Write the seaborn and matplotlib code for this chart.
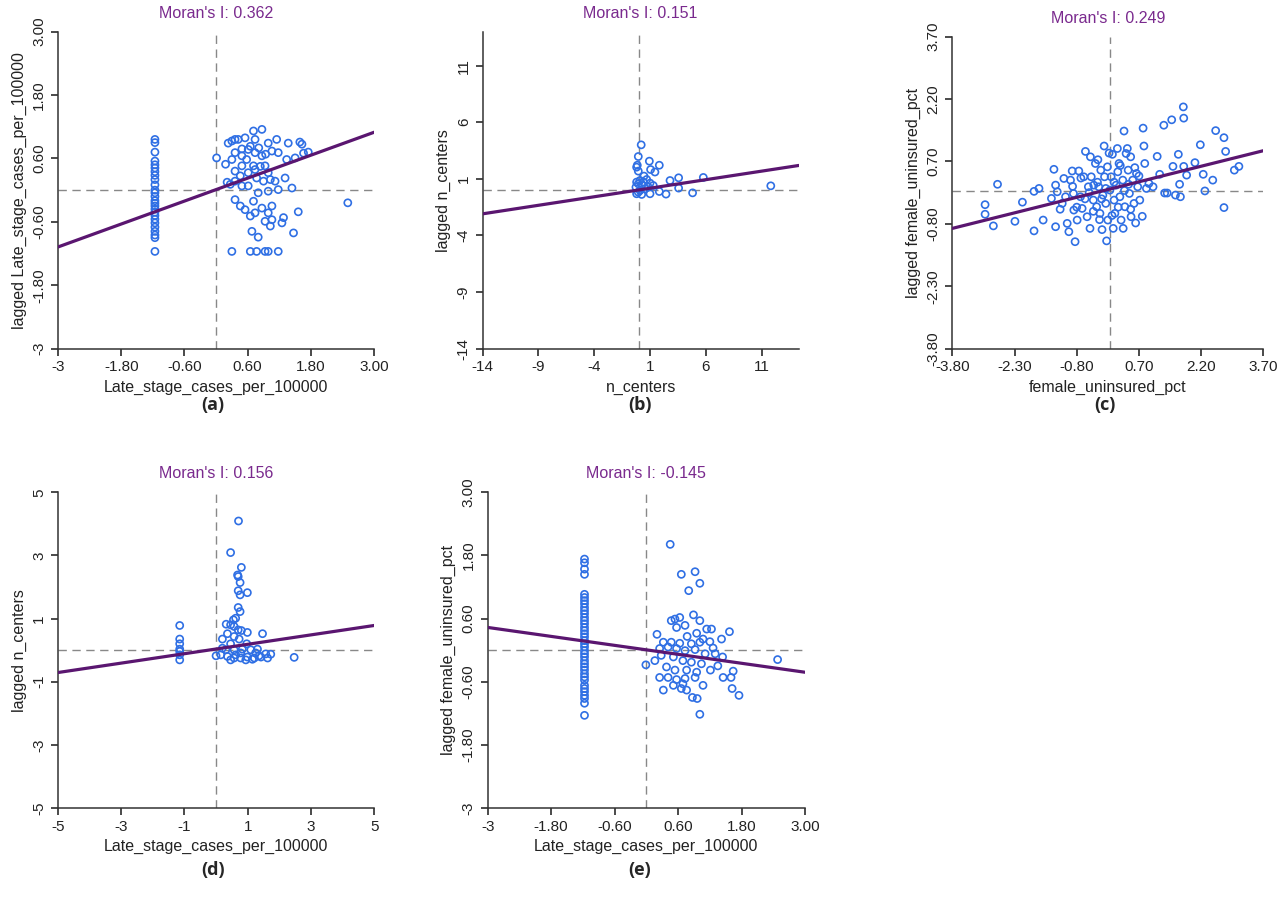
import matplotlib
matplotlib.use("Agg")
import matplotlib.pyplot as plt
import seaborn as sns
import numpy as np

sns.set_theme(style="ticks")
plt.rcParams['font.family'] = ['Liberation Sans', 'DejaVu Sans']

# ---------- data ----------
a_col_y = [0.96,0.9,0.72,0.55,0.48,0.42,0.35,0.28,0.2,0.1,0.0,-0.05,-0.12,-0.2,-0.25,-0.3,-0.36,-0.42,-0.48,-0.55,-0.62,-0.7,-0.78,-0.85,-0.9,-1.16]
a_col_x = [-1.16]*len(a_col_y)
a_x = [0.01,0.18,0.23,0.30,0.36,0.42,0.55,0.71,0.87,0.74,0.99,1.15,1.37,1.59,1.63,1.75,1.66,1.50,1.34,1.18,1.06,0.94,0.81,0.65,0.49,0.36,0.30,0.49,0.36,0.61,0.74,0.93,0.99,1.12,1.31,1.44,1.18,0.99,0.80,0.61,0.49,0.36,0.27,0.21,0.36,0.46,0.55,0.71,0.74,0.87,0.65,0.99,1.06,0.93,1.06,1.03,1.28,1.25,1.56,1.47,2.50,0.68,0.80,0.30,0.65,0.77,0.93,0.99,1.18,0.61,0.74,0.87,0.49,0.58,0.71,0.84,0.46,0.77,0.90,1.03]
a_y = [0.61,0.49,0.89,0.93,0.96,0.96,0.99,1.12,1.15,0.96,0.89,0.96,0.89,0.91,0.87,0.72,0.70,0.61,0.58,0.71,0.74,0.68,0.80,0.83,0.78,0.71,0.58,0.46,0.36,0.33,0.39,0.46,0.33,0.17,0.23,0.04,0.01,-0.02,-0.05,0.08,0.08,0.17,0.11,0.15,-0.18,-0.30,-0.37,-0.21,-0.43,-0.34,-0.49,-0.43,-0.30,-0.59,-0.56,-0.68,-0.52,-0.62,-0.41,-0.81,-0.24,-0.78,-0.89,-1.16,-1.16,-1.16,-1.16,-1.16,-1.16,0.77,0.71,0.65,0.65,0.58,0.46,0.45,0.27,0.23,0.17,0.20]
b_x = [0.2,-0.06,-0.15,-0.21,-0.06,0.93,1.82,1.04,1.43,0.45,0.69,0.09,-0.21,-0.06,0.24,0.39,0.99,1.28,2.78,3.55,3.55,5.76,11.8,4.8,2.42,1.82,0.99,0.24,-0.21,-0.06,0.09,-0.27,0.54,0.84]
b_y = [4.0,2.97,2.2,2.03,1.68,2.56,2.2,1.82,1.6,1.24,0.94,0.85,0.71,0.56,0.50,0.71,0.62,0.41,0.85,1.09,0.18,1.12,0.38,-0.24,-0.35,-0.12,-0.32,-0.38,-0.32,-0.18,-0.03,0.26,0.12,0.26]
c_x = [-3.01,-3.01,-2.81,-2.71,-2.29,-2.11,-1.83,-1.83,-1.71,-1.61,-1.41,-1.35,-1.31,-1.31,-1.27,-1.15,-1.11,-1.07,-1.03,-0.99,-0.95,-0.91,-0.88,-0.87,-0.84,-0.79,-0.75,-0.71,-0.67,-0.63,-0.59,-0.55,-0.52,-0.48,-0.47,-0.45,-0.40,-0.39,-0.35,-0.32,-0.29,-0.27,-0.24,-0.22,-0.19,-0.17,-0.14,-0.13,-0.10,-0.08,-0.06,-0.05,-0.02,0.0,0.03,0.06,0.08,0.10,0.12,0.15,0.18,0.19,0.22,0.24,0.27,0.31,0.32,0.34,0.36,0.39,0.42,0.44,0.47,0.50,0.51,0.55,0.58,0.62,0.64,0.67,0.72,0.78,0.80,0.82,0.84,0.88,0.94,1.04,1.14,1.20,1.30,1.32,1.38,1.49,1.52,1.58,1.65,1.68,1.70,1.77,1.78,1.78,1.85,2.05,2.18,2.25,2.29,2.48,2.55,2.75,2.75,2.79,3.0,3.11,-0.6,-0.5,-0.3,-0.2,0.1,0.2,0.35,0.45,-0.1,-0.9,-0.7,0.6,0.5,-0.4,-0.8,0.25,-0.25,0.05,0.7,-1.2]
c_y = [-0.34,-0.57,-0.85,0.15,-0.74,-0.28,-0.97,-0.02,0.05,-0.71,-0.19,0.51,0.13,-0.87,-0.03,-0.31,0.29,-0.15,-0.79,-0.99,0.25,0.47,-0.07,-0.47,-1.23,-0.71,0.47,-0.15,-0.43,0.33,0.94,-0.63,0.09,-0.91,0.81,0.33,-0.23,0.13,0.65,-0.39,0.74,0.09,-0.55,0.49,-0.94,-0.11,1.07,0.33,-0.31,-1.21,0.57,-0.71,0.9,0.01,0.33,0.87,-0.91,-0.23,-0.55,0.13,1.01,0.45,0.65,-0.15,-0.71,0.25,-0.91,1.43,-0.39,0.89,1.01,0.49,-0.07,0.81,-0.63,0.25,-0.31,-0.78,0.41,0.09,-0.23,-0.62,1.5,1.07,0.65,0.05,0.17,0.09,0.82,0.39,1.57,-0.06,-0.06,1.7,0.58,-0.11,0.87,0.15,-0.15,2.01,1.74,0.58,0.37,0.67,1.1,0.39,-0.01,0.25,1.44,1.27,-0.41,0.94,0.49,0.58,-0.2,-0.05,0.2,-0.2,0.2,-0.4,0.0,0.15,0.05,0.1,0.3,0.55,-0.45,-0.5,-0.4,0.6,-0.7,-0.6,0.35,-0.45]
d_col_y = [0.78,0.35,0.2,0.03,-0.04,-0.15,-0.31]
d_col_x = [-1.15]*len(d_col_y)
d_x = [0.71,0.46,0.8,0.68,0.70,0.76,0.7,0.76,0.99,0.7,0.76,0.62,0.55,0.32,0.46,0.57,0.7,0.8,0.99,1.47,0.36,0.2,0.57,0.73,0.97,0.46,0.2,0.31,0.57,0.83,1.10,1.31,0.0,0.15,0.36,0.57,0.78,0.99,1.21,1.42,1.63,1.73,2.47,0.46,0.94,1.15,1.36,1.57,1.25,0.78,0.62]
d_y = [4.09,3.09,2.62,2.38,2.33,2.14,1.88,1.75,1.82,1.35,1.22,1.01,0.96,0.82,0.8,0.75,0.64,0.62,0.56,0.52,0.52,0.35,0.43,0.35,0.2,0.2,0.06,0.01,0.01,0.03,0.01,0.03,-0.18,-0.15,-0.2,-0.25,-0.25,-0.22,-0.25,-0.22,-0.25,-0.13,-0.23,-0.31,-0.31,-0.29,-0.18,-0.12,-0.09,-0.09,-0.15]
e_col_y = [1.73,1.66,1.54,1.44,1.06,1.0,0.94,0.88,0.81,0.75,0.69,0.62,0.56,0.5,0.43,0.37,0.31,0.25,0.18,0.12,0.06,-0.01,-0.07,-0.13,-0.2,-0.26,-0.32,-0.38,-0.45,-0.51,-0.57,-0.67,-0.73,-0.79,-0.86,-0.92,-1.01,-1.24]
e_col_x = [-1.17]*len(e_col_y)
e_x = [0.45,0.66,0.92,1.01,0.8,0.89,1.01,0.63,0.47,0.54,0.73,0.57,1.14,1.23,1.57,0.95,0.2,0.77,1.07,1.42,0.32,0.47,0.63,0.85,1.01,1.2,1.26,0.25,0.41,0.57,0.73,0.92,1.11,1.3,1.44,0.16,-0.01,0.28,0.51,0.69,0.85,1.04,1.21,1.35,1.64,2.48,0.38,0.54,0.76,0.95,0.25,0.41,0.57,0.73,0.92,1.07,1.45,1.6,1.62,1.75,0.32,0.66,0.76,0.87,0.96,1.01,0.51,0.69]
e_y = [2.01,1.44,1.49,1.27,1.13,0.67,0.56,0.62,0.56,0.59,0.47,0.43,0.4,0.4,0.35,0.32,0.3,0.26,0.21,0.21,0.15,0.15,0.13,0.12,0.15,0.16,0.04,0.03,0.06,0.03,-0.01,0.01,-0.07,-0.07,-0.13,-0.2,-0.28,-0.1,-0.13,-0.2,-0.23,-0.26,-0.38,-0.3,-0.4,-0.18,-0.32,-0.38,-0.38,-0.42,-0.52,-0.52,-0.56,-0.54,-0.52,-0.67,-0.52,-0.52,-0.73,-0.86,-0.76,-0.73,-0.76,-0.9,-0.92,-1.22,-0.67,-0.64]

slopes = [0.362, 0.151, 0.249, 0.149, -0.142]
intercepts = [0.01, 0.02, 0.036, 0.035, 0.005]
morans = ["0.362", "0.151", "0.249", "0.156", "-0.145"]
xlabels = ["Late_stage_cases_per_100000", "n_centers", "female_uninsured_pct",
           "Late_stage_cases_per_100000", "Late_stage_cases_per_100000"]
ylabels = ["lagged Late_stage_cases_per_100000", "lagged n_centers", "lagged female_uninsured_pct",
           "lagged n_centers", "lagged female_uninsured_pct"]
ticks = [[-3, -1.8, -0.6, 0.6, 1.8, 3.0], [-14, -9, -4, 1, 6, 11], [-3.8, -2.3, -0.8, 0.7, 2.2, 3.7],
         [-5, -3, -1, 1, 3, 5], [-3, -1.8, -0.6, 0.6, 1.8, 3.0]]
ticklabels = [["-3", "-1.80", "-0.60", "0.60", "1.80", "3.00"], ["-14", "-9", "-4", "1", "6", "11"],
              ["-3.80", "-2.30", "-0.80", "0.70", "2.20", "3.70"], ["-5", "-3", "-1", "1", "3", "5"],
              ["-3", "-1.80", "-0.60", "0.60", "1.80", "3.00"]]
lims = [(-3, 3), (-14, 14.3), (-3.8, 3.7), (-5, 5), (-3, 3)]
ylims = [(-3, 3), (-14, 14), (-3.8, 3.7), (-5, 5), (-3, 3)]
panel_tags = ["(a)", "(b)", "(c)", "(d)", "(e)"]

xs = [a_col_x + a_x, b_x, c_x, d_col_x + d_x, e_col_x + e_x]
ys = [a_col_y + a_y, b_y, c_y, d_col_y + d_y, e_col_y + e_y]

rects = [[0.0453, 0.619, 0.247, 0.3464], [0.377, 0.619, 0.247, 0.3464], [0.744, 0.619, 0.243, 0.341],
         [0.0453, 0.117, 0.247, 0.345], [0.381, 0.117, 0.248, 0.345]]
tagpos = [(213, 405), (640, 405), (1105, 405), (213, 870), (640, 870)]

fig = plt.figure(figsize=(12.8, 9.15), dpi=100)
for i in range(5):
    ax = fig.add_axes(rects[i])
    ax.axvline(0, color="#888888", ls=(0, (6, 4)), lw=1, zorder=1)
    ax.axhline(0, color="#888888", ls=(0, (6, 4)), lw=1, zorder=1)
    sns.scatterplot(x=xs[i], y=ys[i], ax=ax, facecolors="none", edgecolor="#2f6fe4",
                    s=26, linewidth=1.2, zorder=3)
    ax.axline((0, intercepts[i]), slope=slopes[i], color="#5a1670", lw=2.3, zorder=4)
    ax.set_xlim(*lims[i]); ax.set_ylim(*ylims[i])
    ax.set_xticks(ticks[i]); ax.set_xticklabels(ticklabels[i])
    ax.set_yticks(ticks[i]); ax.set_yticklabels(ticklabels[i], rotation=90, va="center")
    sns.despine(ax=ax)
    for s in ["left", "bottom"]:
        ax.spines[s].set_color("#333333"); ax.spines[s].set_linewidth(1.1)
    ax.tick_params(labelsize=11, length=5, color="#333333", labelcolor="#222222")
    ax.set_xlabel(xlabels[i], fontsize=11.5, color="#222222")
    ax.set_ylabel(ylabels[i], fontsize=11.5, color="#222222")
    ax.set_title("Moran's I: " + morans[i], color="#7a2a8e", fontsize=11.5, pad=10)
    fig.text(tagpos[i][0] / 1280, 1 - tagpos[i][1] / 915, panel_tags[i], fontsize=13,
             fontweight="bold", ha="center", va="center", family=["Open Sans", "DejaVu Sans"])

fig.savefig("out.png", dpi=100, facecolor="white")
